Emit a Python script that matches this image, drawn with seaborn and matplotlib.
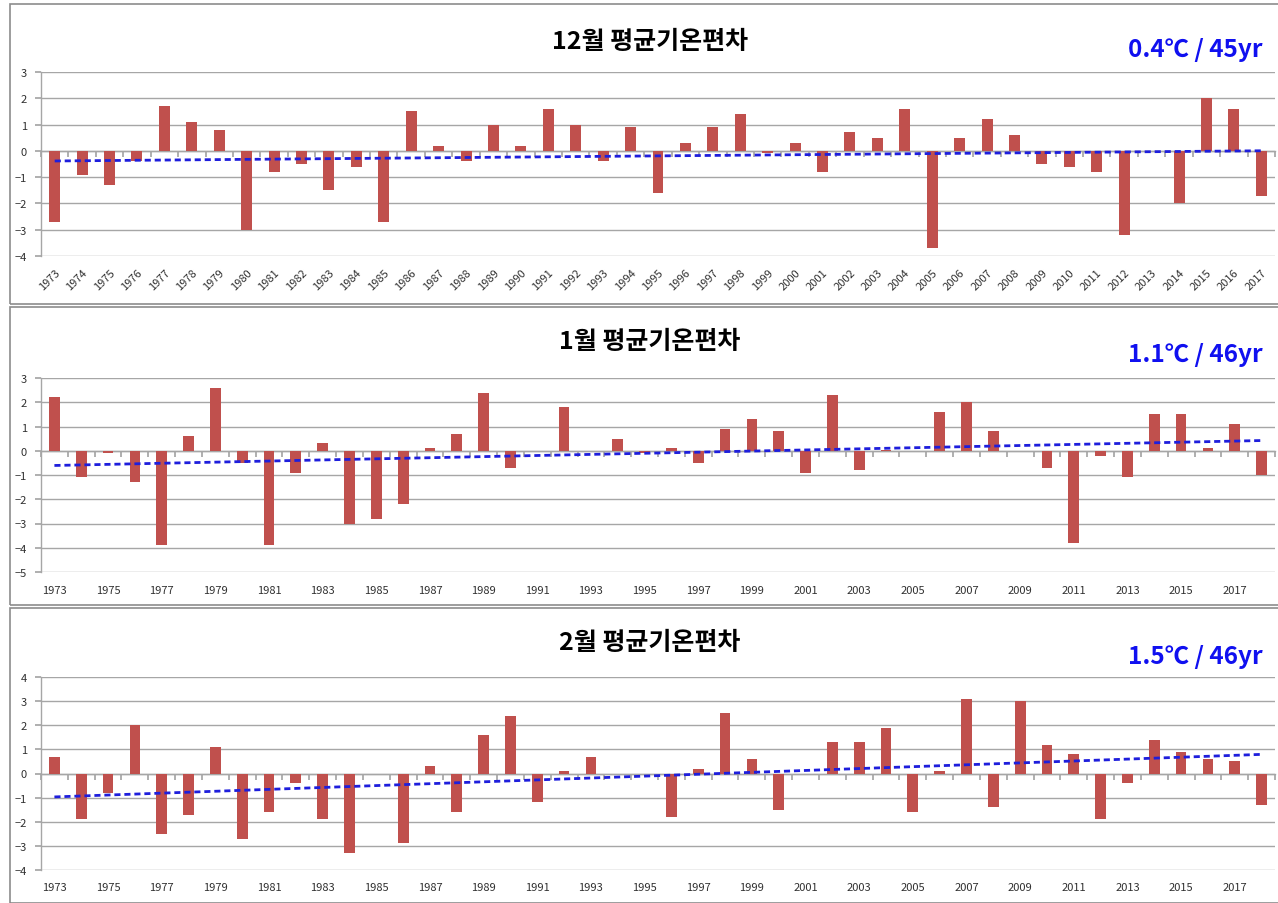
import numpy as np
import pandas as pd
import matplotlib
matplotlib.use("Agg")
import matplotlib.pyplot as plt
import seaborn as sns
from matplotlib.patches import Rectangle

# ---------------- data ----------------
years_dec = list(range(1973, 2018))
dec_values = [-2.7, -0.9, -1.3, -0.4, 1.7, 1.1, 0.8, -3.0, -0.8, -0.5,
              -1.5, -0.6, -2.7, 1.5, 0.2, -0.4, 1.0, 0.2, 1.6, 1.0,
              -0.4, 0.9, -1.6, 0.3, 0.9, 1.4, -0.1, 0.3, -0.8, 0.7,
              0.5, 1.6, -3.7, 0.5, 1.2, 0.6, -0.5, -0.6, -0.8, -3.2,
              0.0, -2.0, 2.0, 1.6, -1.7]

years_jan = list(range(1973, 2019))
jan_values = [2.2, -1.1, -0.1, -1.3, -3.9, 0.6, 2.6, -0.5, -3.9, -0.9,
              0.3, -3.0, -2.8, -2.2, 0.1, 0.7, 2.4, -0.7, 0.0, 1.8,
              0.0, 0.5, -0.1, 0.1, -0.5, 0.9, 1.3, 0.8, -0.9, 2.3,
              -0.8, 0.03, 0.0, 1.6, 2.0, 0.8, 0.0, -0.7, -3.8, -0.2,
              -1.1, 1.5, 1.5, 0.1, 1.1, -1.0]

years_feb = list(range(1973, 2019))
feb_values = [0.7, -1.9, -0.8, 2.0, -2.5, -1.7, 1.1, -2.7, -1.6, -0.4,
              -1.9, -3.3, 0.0, -2.9, 0.3, -1.6, 1.6, 2.4, -1.2, 0.1,
              0.7, 0.0, 0.0, -1.8, 0.2, 2.5, 0.6, -1.5, 0.0, 1.3,
              1.3, 1.9, -1.6, 0.1, 3.1, -1.4, 3.0, 1.2, 0.8, -1.9,
              -0.4, 1.4, 0.9, 0.6, 0.5, -1.3]

titles = ["12월 평균기온편차", "1월 평균기온편차", "2월 평균기온편차"]
trend_labels = ["0.4℃ / 45yr", "1.1℃ / 46yr", "1.5℃ / 46yr"]
y_limits = [(-4, 3), (-5, 3), (-4, 4)]

# ---------------- style ----------------
sns.set_theme(style="white")
plt.rcParams["font.family"] = ["Noto Sans CJK KR", "DejaVu Sans"]

W, H = 1278, 904
fig = plt.figure(figsize=(W / 100, H / 100), dpi=100)

BAR = "#C0504D"
GRID = "#A6A6A6"
TREND = "#1E1EDC"

panels = [
    dict(years=years_dec, values=dec_values, ax_top=73, ax_bot=257,
         frame=(5, 305), title_y=42, anno_y=50, every=1),
    dict(years=years_jan, values=jan_values, ax_top=379, ax_bot=573,
         frame=(308, 606), title_y=342, anno_y=355, every=2),
    dict(years=years_feb, values=feb_values, ax_top=678, ax_bot=871,
         frame=(609, 904), title_y=643, anno_y=657, every=2),
]

ax_left, ax_right = 41, 1275

for i, p in enumerate(panels):
    # panel frame
    y0, y1 = p["frame"]
    fig.add_artist(Rectangle((10 / W, 1 - y1 / H), 1.2, (y1 - y0) / H,
                             transform=fig.transFigure, fill=False,
                             ec="#8C8C8C", lw=1.2, clip_on=False))

    ax = fig.add_axes([ax_left / W, 1 - p["ax_bot"] / H,
                       (ax_right - ax_left) / W, (p["ax_bot"] - p["ax_top"]) / H])
    n = len(p["years"])
    df = pd.DataFrame({"year": p["years"], "value": p["values"]})
    sns.barplot(data=df, x="year", y="value", color=BAR, saturation=1,
                width=0.4, linewidth=0, ax=ax, zorder=2)
    sns.regplot(x=np.arange(n), y=np.array(p["values"]), scatter=False,
                ci=None, truncate=True, color=TREND, ax=ax,
                line_kws=dict(ls=(0, (2.2, 1.4)), lw=2, zorder=4))

    lo, hi = y_limits[i]
    ax.set_ylim(lo, hi)
    ax.set_yticks(np.arange(lo, hi + 1))
    ax.set_xlim(-0.5, n - 0.5)
    ax.set_xlabel("")
    ax.set_ylabel("")
    ax.yaxis.grid(True, color=GRID, lw=1, zorder=0)
    ax.set_axisbelow(True)
    for s in ["top", "right", "bottom"]:
        ax.spines[s].set_visible(False)
    ax.spines["left"].set_color(GRID)
    ax.spines["left"].set_linewidth(1)
    ax.tick_params(axis="y", length=4, color=GRID, labelsize=8,
                   labelcolor="#303030", pad=6, left=True, direction="out")

    if p["every"] == 1:
        ax.set_xticks(np.arange(n))
        ax.set_xticklabels([str(y) for y in p["years"]], rotation=45,
                           ha="right", rotation_mode="anchor", fontsize=8,
                           color="#303030")
        ax.tick_params(axis="x", length=0, pad=8)
    else:
        pos = np.arange(0, n, 2)
        ax.set_xticks(pos)
        ax.set_xticklabels([str(p["years"][k]) for k in pos], fontsize=8,
                           color="#303030")
        ax.tick_params(axis="x", length=0, pad=9)

    # category tick marks on the zero line
    sec = ax.secondary_xaxis(0, transform=ax.transData)
    sec.set_xticks(np.arange(n + 1) - 0.5)
    sec.set_xticklabels([])
    sec.tick_params(length=4, color=GRID, direction="out")
    sec.spines["bottom"].set_color(GRID)
    sec.spines["bottom"].set_linewidth(1)

    fig.text(650 / W, 1 - p["title_y"] / H, titles[i], ha="center",
             va="center", fontsize=18, fontweight="bold", color="black")
    fig.text(1263 / W, 1 - p["anno_y"] / H, trend_labels[i], ha="right",
             va="center", fontsize=17.5, fontweight="bold", color="#1010F0")

fig.savefig("out.png", dpi=100)
